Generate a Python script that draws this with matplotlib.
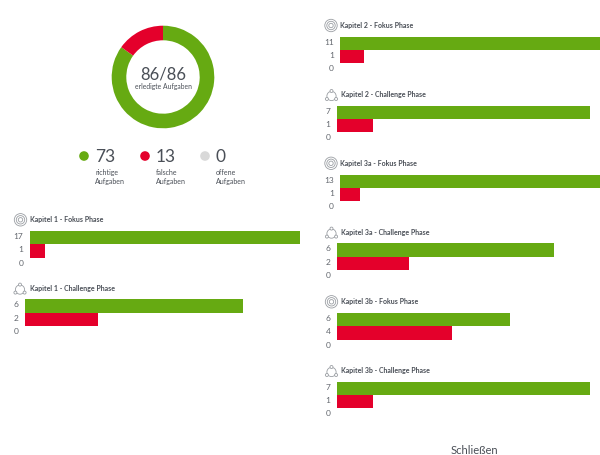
import matplotlib
matplotlib.use("Agg")
import matplotlib.pyplot as plt
from matplotlib.patches import Circle
from matplotlib.transforms import ScaledTranslation

plt.rcParams['font.family'] = ['Lato', 'DejaVu Sans']

GREEN = '#66aa12'
RED = '#e4002b'
GREY = '#d9d9d9'
TEXT = '#4a4f57'

W, H = 600, 455

donut_values = [73, 13]
donut_colors = [GREEN, RED]
summary_values = [73, 13, 0]
summary_labels = ['richtige\nAufgaben', 'falsche\nAufgaben', 'offene\nAufgaben']
summary_colors = [GREEN, RED, GREY]
summary_x = [84, 145, 205]

titles = ['Kapitel 1 - Fokus Phase', 'Kapitel 1 - Challenge Phase',
          'Kapitel 2 - Fokus Phase', 'Kapitel 2 - Challenge Phase',
          'Kapitel 3a - Fokus Phase', 'Kapitel 3a - Challenge Phase',
          'Kapitel 3b - Fokus Phase', 'Kapitel 3b - Challenge Phase']
right_values = [17, 6, 11, 7, 13, 6, 6, 7]
wrong_values = [1, 2, 1, 1, 1, 2, 4, 1]
open_values = [0, 0, 0, 0, 0, 0, 0, 0]
panel_kind = ['target', 'tri', 'target', 'tri', 'target', 'tri', 'target', 'tri']
# layout in pixels: left edge of bars, pixel width of the value axis, value-axis maximum, top of first bar
panel_left = [29.5, 25, 340, 336.5, 340, 336.5, 336.5, 336.5]
panel_width = [270, 290, 260, 290, 260, 261, 289, 290]
panel_max = [17, 8, 11, 8, 13, 7.2, 10, 8]
panel_top = [231, 299.3, 36.7, 105.7, 174.5, 243.3, 313, 381.7]
BAND = 13.25


def px_axes(fig, x, y, w, h):
    return fig.add_axes([x / W, 1 - (y + h) / H, w / W, h / H])


fig = plt.figure(figsize=(W / 100, H / 100), dpi=100, facecolor='white')

ov = fig.add_axes([0, 0, 1, 1], zorder=5)
ov.set_xlim(0, W)
ov.set_ylim(H, 0)
ov.axis('off')
ov.patch.set_alpha(0)

R = 51.3
dax = px_axes(fig, 163 - R, 77 - R, 2 * R, 2 * R)
dax.pie(donut_values, colors=donut_colors, startangle=90, counterclock=False,
        radius=1.0, wedgeprops=dict(width=14.6 / R, linewidth=0))
dax.set_xlim(-1, 1)
dax.set_ylim(-1, 1)

ov.text(163, 74, '86/86', ha='center', va='center', fontsize=12, color=TEXT)
ov.text(163, 87, 'erledigte Aufgaben', ha='center', va='center', fontsize=4.9, color=TEXT)

for x, v, lab, c in zip(summary_x, summary_values, summary_labels, summary_colors):
    ov.add_patch(Circle((x, 156), 4.8, color=c, lw=0))
    ov.text(x + 11, 156.5, str(v), ha='left', va='center', fontsize=12.5, color=TEXT)
    ov.text(x + 11, 177, lab, ha='left', va='center', fontsize=5, color=TEXT, linespacing=1.3)


def icon(kind, cx, cy):
    col = '#9a9ea3'
    if kind == 'target':
        for r in (6.2, 4.2, 2.2):
            ov.add_patch(Circle((cx, cy), r, fill=False, ec=col, lw=0.6))
    else:
        ov.add_patch(Circle((cx, cy + 1.5), 4.6, fill=False, ec=col, lw=0.6))
        for dx, dy in ((0, -5), (-4.6, 3), (4.6, 3)):
            ov.add_patch(Circle((cx + dx, cy + 1.5 + dy), 1.5, fc='white', ec=col, lw=0.6))


lift = ScaledTranslation(0, 1.5 / 100, fig.dpi_scale_trans)

for i, t in enumerate(titles):
    left, top = panel_left[i], panel_top[i]
    ax = px_axes(fig, left, top, panel_width[i], BAND * 3)
    cats = [0, 1, 2]
    vals = [right_values[i], wrong_values[i], open_values[i]]
    ax.barh(cats, vals, height=1.0, color=[GREEN, RED, GREY], linewidth=0)
    ax.set_xlim(0, panel_max[i])
    ax.set_ylim(2.5, -0.5)
    ax.set_yticks(cats, [str(v) for v in vals])
    ax.tick_params(axis='y', length=0, pad=4.5, labelsize=6, labelcolor='#62666d')
    for lab in ax.get_yticklabels():
        lab.set_transform(lab.get_transform() + lift)
    ax.set_xticks([])
    for s in ax.spines.values():
        s.set_visible(False)
    ax.patch.set_alpha(0)
    tx = left + 0.5 if left in (29.5, 340) else left + 4.5
    ov.text(tx, top - 11.2, t, ha='left', va='center', fontsize=5, color=TEXT, fontweight='bold')
    icon(panel_kind[i], tx - 9.5, top - 11.2)

ov.text(474, 450.5, 'Schließen', ha='center', va='center', fontsize=8, color=TEXT)

fig.savefig('out.png', dpi=100, facecolor='white')
